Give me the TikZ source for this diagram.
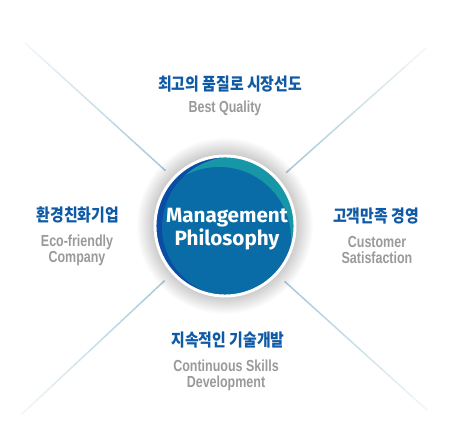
\documentclass[tikz,border=0pt]{standalone}
\usepackage{fontspec}
\setmainfont{Liberation Sans}
\newfontfamily\korfont[FakeStretch=0.86]{Noto Sans CJK KR}
\newfontfamily\engfont[FakeStretch=0.78]{Liberation Sans}
\newfontfamily\circfont{Fira Sans}
\usetikzlibrary{calc}
\definecolor{korblue}{HTML}{0F5AA6}
\definecolor{enggray}{HTML}{9A9A9A}
\definecolor{rayblue}{HTML}{9DC3D6}
\definecolor{ballblue}{HTML}{0A6CA6}
\definecolor{balldark}{HTML}{0B4DA5}
\definecolor{ballteal}{HTML}{1796A8}
\begin{document}
\begin{tikzpicture}[x=0.75pt,y=-0.75pt,
  kor/.style={font=\korfont\bfseries\fontsize{13}{15}\selectfont,text=korblue,inner sep=0pt},
  eng/.style={font=\engfont\bfseries\fontsize{12}{12}\selectfont,text=enggray,align=center,inner sep=0pt},
  ray/.style={draw=rayblue,line width=1.1pt}]
\useasboundingbox[fill=white] (0,0) rectangle (461,441);
% outer ends of the rays
\coordinate (ul) at (25,43);
\coordinate (ur) at (426,48);
\coordinate (ll) at (22,414);
\coordinate (lr) at (427,410);
\node[circle,minimum size=106.5pt,inner sep=0pt] (phil) at (225,226) {};
% rays, fading outwards
\foreach \c/\a in {ul/137.5,ur/41.5,ll/222.8,lr/317.7}{
  \foreach \t in {0,0.05,...,0.95}{
    \draw[ray,draw opacity=0.15+0.85*\t]
      ($(\c)!\t!(phil.\a)$) -- ($(\c)!\t+0.05!(phil.\a)$);
  }
}
% soft shadow round the ball
\foreach \r in {71,...,88}{
  \fill[black,fill opacity=0.012] (phil.center) circle[radius=\r];
}
% the ball
\begin{scope}
  \clip (phil.center) circle[radius=70];
  \fill[ballteal] (phil.center) circle[radius=70];
  \fill[ballblue] (219,239) circle[radius=72];
  \fill[balldark,even odd rule] (phil.center) circle[radius=70] (232,227) circle[radius=70];
\end{scope}
\draw[white,line width=2.2pt] (phil.center) circle[radius=70];
\node[font=\circfont\bfseries\fontsize{15.5}{17.5}\selectfont,text=white,align=center]
  at (227,229) {Management\\Philosophy};
% labels
\node[kor] (qualk) at (230,84) {최고의 품질로 시장선도};
\node[eng] (quale) at (225,108) {Best Quality};
\node[kor] (ecok) at (78,215) {환경친화기업};
\node[eng] (ecoe) at (77,250) {Eco-friendly\\Company};
\node[kor] (custk) at (376,216) {고객만족 경영};
\node[eng] (custe) at (377,250) {Customer\\Satisfaction};
\node[kor] (skillk) at (228,340) {지속적인 기술개발};
\node[eng] (skille) at (226,375) {Continuous Skills\\Development};
\end{tikzpicture}
\end{document}
